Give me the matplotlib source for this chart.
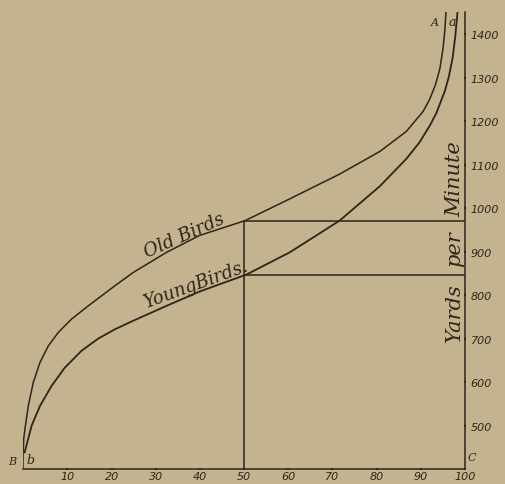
import matplotlib.pyplot as plt

# speed (yards per minute) against percent of the distance flown
old_x = [0, 0.1, 0.38, 1.13, 2.26, 3.78, 5.66, 7.92, 10.95, 14.7, 20.7, 24.9,
         32.4, 39.9, 50.2, 60.3, 71.6, 80.7, 86.7, 90.5, 92, 93.3, 94.3,
         95.0, 95.4, 95.7]
old_y = [440, 470, 492, 545, 599, 645, 683, 714, 745, 775, 821, 852,
         898, 937, 971, 1021, 1078, 1130, 1176, 1222, 1250, 1283, 1320,
         1365, 1404, 1450]

young_x = [0.3, 1.9, 3.78, 6.4, 9.4, 13.2, 17.0, 20.7, 24.9, 32.4, 39.9,
           50.5, 60.3, 71.6, 80.7, 86.7, 89.7, 92, 93.5, 95.4, 96.3, 97.2,
           97.8, 98.3]
young_y = [438, 500, 545, 591, 633, 672, 700, 721, 741, 775, 808,
           847, 898, 971, 1050, 1113, 1151, 1189, 1218, 1268, 1300, 1345,
           1395, 1450]

x_ticks = [10, 20, 30, 40, 50, 60, 70, 80, 90, 100]
y_ticks = [500, 600, 700, 800, 900, 1000, 1100, 1200, 1300, 1400]
mark_x = 50
old_at_mark = 970
young_at_mark = 845

bg = '#c3b48f'
ink = '#30231a'
serif = ['DejaVu Serif']

fig = plt.figure(figsize=(5.05, 4.85), dpi=100, facecolor=bg)
ax = fig.add_axes([0.0461, 0.0309, 0.8747, 0.9416])
ax.set_facecolor(bg)
ax.set_xlim(0, 100)
ax.set_ylim(400, 1450)

ax.plot(old_x, old_y, color=ink, lw=1.1)
ax.plot(young_x, young_y, color=ink, lw=1.3)

# reading lines at 50
ax.plot([mark_x, mark_x], [400, old_at_mark], color=ink, lw=1.1)
ax.plot([mark_x, 100], [old_at_mark, old_at_mark], color=ink, lw=1.1)
ax.plot([mark_x, 100], [young_at_mark, young_at_mark], color=ink, lw=1.1)

# frame
for s in ['top', 'left']:
    ax.spines[s].set_visible(False)
for s in ['bottom', 'right']:
    ax.spines[s].set_color(ink)
    ax.spines[s].set_linewidth(1.1)
ax.plot([0, 0], [400, 445], color=ink, lw=1.1)

ax.yaxis.tick_right()
ax.set_xticks(x_ticks)
ax.set_xticklabels([str(v) for v in x_ticks])
ax.set_yticks(y_ticks)
ax.set_yticklabels([str(v) for v in y_ticks])
ax.tick_params(colors=ink, length=2, width=1.3, direction='inout')
ax.tick_params(axis='x', pad=0.5)
ax.tick_params(axis='y', pad=3)
for lab in ax.get_xticklabels() + ax.get_yticklabels():
    lab.set_fontstyle('italic')
    lab.set_family('DejaVu Sans')
    lab.set_fontsize(8)
    lab.set_color(ink)

ax.text(36.4, 938, 'Old Birds', rotation=24, ha='center', va='center',
        fontsize=13, style='italic', family=serif, color=ink)
ax.text(39.0, 826, 'YoungBirds.', rotation=20, ha='center', va='center',
        fontsize=13, style='italic', family=serif, color=ink)

ax.text(97.7, 1069, 'Minute', rotation=90, ha='center', va='center',
        fontsize=15, style='italic', family=serif, color=ink)
ax.text(97.7, 908, 'per', rotation=90, ha='center', va='center',
        fontsize=15, style='italic', family=serif, color=ink)
ax.text(97.7, 763, 'Yards', rotation=90, ha='center', va='center',
        fontsize=15, style='italic', family=serif, color=ink)

ax.text(93.1, 1428, 'A', ha='center', va='center', fontsize=8,
        style='italic', family=serif, color=ink)
ax.text(97.2, 1428, 'a', ha='center', va='center', fontsize=9,
        style='italic', family=serif, color=ink)
ax.text(-2.6, 418, 'B', ha='center', va='center', fontsize=8,
        style='italic', family=serif, color=ink)
ax.text(1.7, 423, 'b', ha='center', va='center', fontsize=9,
        style='italic', family=serif, color=ink)
ax.text(101.5, 428, 'C', ha='center', va='center', fontsize=8,
        style='italic', family=serif, color=ink)

plt.savefig('out.png', dpi=100, facecolor=bg)
